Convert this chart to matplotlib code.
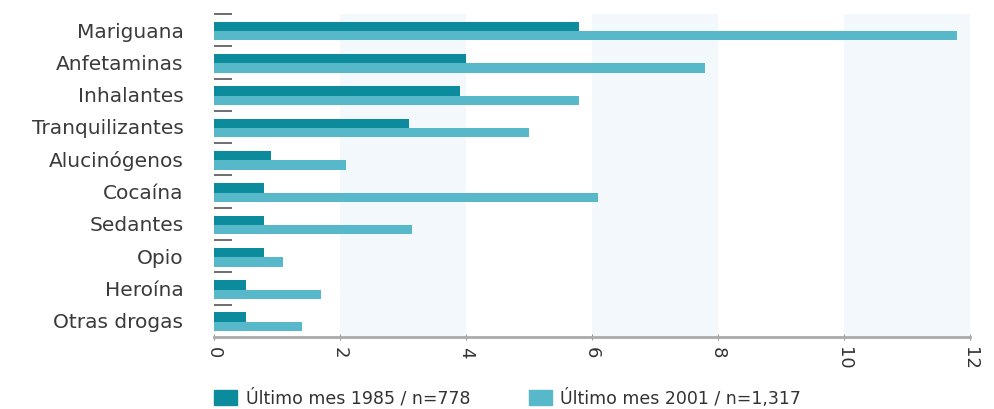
import matplotlib
matplotlib.use("Agg")
import matplotlib.pyplot as plt
from matplotlib.patches import Patch

categories = ["Mariguana", "Anfetaminas", "Inhalantes", "Tranquilizantes", "Alucinógenos",
              "Cocaína", "Sedantes", "Opio", "Heroína", "Otras drogas"]
vals_1985 = [5.8, 4.0, 3.9, 3.1, 0.9, 0.8, 0.8, 0.8, 0.5, 0.5]
vals_2001 = [11.8, 7.8, 5.8, 5.0, 2.1, 6.1, 3.15, 1.1, 1.7, 1.4]
xticks = [0, 2, 4, 6, 8, 10, 12]
label_1985 = "Último mes 1985 / n=778"
label_2001 = "Último mes 2001 / n=1,317"

dark = "#0b8b9c"
light = "#56b8c8"
band = "#f3f8fc"

plt.rcParams['font.family'] = ['DejaVu Sans']
fig = plt.figure(figsize=(9.94, 4.09), dpi=100)
ax = fig.add_axes([0.2153, 0.176, 0.7606, 0.790])

for a in [2, 6, 10]:
    ax.axvspan(a, a + 2, color=band, zorder=0, lw=0)

n = len(categories)
pos = list(range(n))
h = 0.29
ax.barh([p - h / 2 + 0.03 for p in pos], vals_1985, height=h, color=dark, zorder=2, label=label_1985)
ax.barh([p + h / 2 + 0.03 for p in pos], vals_2001, height=h, color=light, zorder=2, label=label_2001)

ax.set_ylim(n - 0.5, -0.5)
ax.set_xlim(0, 12)
ax.set_yticks([p - 0.5 for p in pos])
ax.set_yticklabels([])
ax.tick_params(axis='y', direction='in', length=13, width=1.2, color='#555555', left=True)
ax.set_yticks(pos, minor=True)
ax.set_yticklabels(categories, minor=True, fontsize=14.5, color='#3a3a3a')
ax.tick_params(axis='y', which='minor', length=0, pad=22)

ax.set_xticks(xticks)
ax.set_xticklabels([str(t) for t in xticks], rotation=270, fontsize=13, color='#333333')
ax.tick_params(axis='x', direction='inout', length=5, color='#999999', pad=5)

for s in ['top', 'right', 'left']:
    ax.spines[s].set_visible(False)
ax.spines['bottom'].set_color('#aaaaaa')
ax.spines['bottom'].set_linewidth(2)

handles = [Patch(color=dark, label=label_1985), Patch(color=light, label=label_2001)]
fig.legend(handles=handles, loc='lower left', bbox_to_anchor=(0.2, -0.035), ncol=2,
           frameon=False, fontsize=12.5, handlelength=1.3, handleheight=0.9,
           handletextpad=0.5, columnspacing=3.4, labelcolor='#333333')

fig.savefig("out.png", dpi=100)
